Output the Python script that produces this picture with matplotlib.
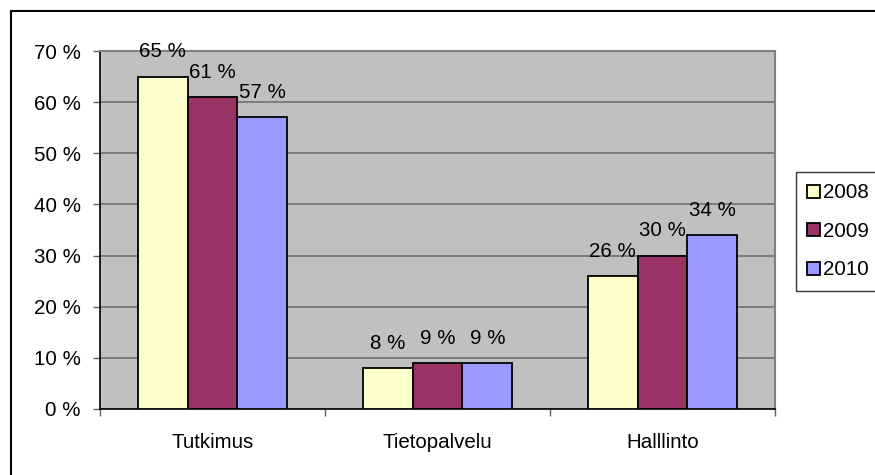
import numpy as np
import matplotlib.pyplot as plt
from matplotlib.patches import Rectangle
from matplotlib.ticker import FixedLocator

plt.rcParams['font.family'] = ['Liberation Sans', 'DejaVu Sans']

# data
categories = ['Tutkimus', 'Tietopalvelu', 'Halllinto']
years = ['2008', '2009', '2010']
values = {
    '2008': [65, 8, 26],
    '2009': [61, 9, 30],
    '2010': [57, 9, 34],
}
colors = ['#FFFFCC', '#993366', '#9999FF']

W, H = 875, 475
fs = 14.8
fig = plt.figure(figsize=(W / 100, H / 100), dpi=100)
fig.patch.set_facecolor('white')

# plot area in pixel coords
left, right, top, bottom = 100, 775, 51, 409
ax = fig.add_axes([left / W, (H - bottom) / H, (right - left) / W, (bottom - top) / H])
ax.set_facecolor('#C0C0C0')

x = np.arange(len(categories))
bw = 0.222
for i, yr in enumerate(years):
    pos = x + (i - 1) * bw
    bars = ax.bar(pos, values[yr], width=bw, color=colors[i], edgecolor='black',
                  linewidth=1.3, zorder=3, label=yr)
    for b, v in zip(bars, values[yr]):
        ax.annotate(f'{v} %', (b.get_x() + b.get_width() / 2, v), xytext=(0, 14),
                    textcoords='offset points', ha='center', va='baseline',
                    fontsize=fs, zorder=4, annotation_clip=False)

ax.set_xlim(-0.5, len(categories) - 0.5)
ax.set_ylim(0, 70)
ax.set_yticks(range(0, 71, 10))
ax.set_yticklabels([f'{t} %' for t in range(0, 71, 10)], fontsize=fs)
ax.yaxis.grid(True, color='#707070', linewidth=1.2, zorder=0)
ax.set_axisbelow(True)

ax.set_xticks(x)
ax.set_xticklabels(categories, fontsize=fs)
ax.xaxis.set_minor_locator(FixedLocator(np.arange(-0.5, len(categories), 1.0)))
ax.tick_params(axis='x', which='major', length=0, pad=17)
ax.tick_params(axis='x', which='minor', length=5, width=1, color='#606060')
ax.tick_params(axis='y', length=5, width=1, color='#606060', pad=9)

for s in ['left', 'bottom']:
    ax.spines[s].set_color('black')
    ax.spines[s].set_linewidth(1.2)
for s in ['top', 'right']:
    ax.spines[s].set_color('#808080')
    ax.spines[s].set_linewidth(1.5)

# outer chart border (only top and left visible)
fig.add_artist(Rectangle((11 / W, -0.2), 1.2, (H - 11) / H + 0.2, transform=fig.transFigure,
                         fill=False, edgecolor='black', linewidth=1.5, clip_on=False))

handles, labels = ax.get_legend_handles_labels()
leg = fig.legend(handles, labels, loc='upper left', bbox_to_anchor=(796 / W, (H - 172) / H),
                 fontsize=fs, frameon=True, fancybox=False, edgecolor='black',
                 handlelength=0.6, handleheight=0.6, handletextpad=0.15,
                 labelspacing=0.95, borderpad=0.55, borderaxespad=0)
leg.get_frame().set_linewidth(1.0)

fig.savefig('out.png', dpi=100)
